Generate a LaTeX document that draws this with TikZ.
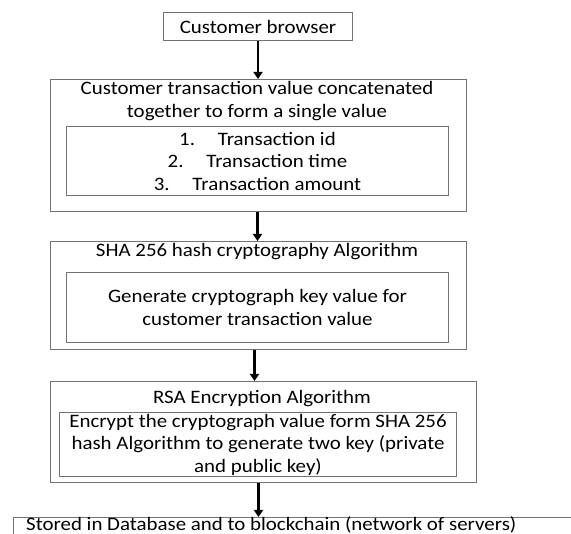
\documentclass[tikz,border=0pt]{standalone}
\usepackage{fontspec}
\setmainfont{Carlito}[FakeStretch=1.1]
\usetikzlibrary{arrows.meta}
\begin{document}
\begin{tikzpicture}[x=1pt,y=-1pt,
  frame/.style={draw=black!55,line width=1pt,inner sep=0pt,anchor=north west},
  label/.style={font=\fontsize{19}{22.5}\selectfont,align=center,inner sep=0pt},
  flow/.style={line width=2.6pt,-{Triangle[length=7pt,width=9pt]}}]
\useasboundingbox (0,0) rectangle (571,534);
\clip (0,0) rectangle (571,534);
\fill[white] (0,0) rectangle (571,534);

% stage 1: browser
\node[frame,minimum width=189pt,minimum height=28pt] (b1) at (163,12) {};
\node[label] (t1) at (b1.center) {Customer browser};

% stage 2: concatenated transaction value
\node[frame,minimum width=416pt,minimum height=132pt] (b2) at (50,79) {};
\node[label] (t2) at (257,101) {Customer transaction value concatenated\\together to form a single value};
\node[frame,minimum width=382pt,minimum height=69pt] (i2) at (66,126) {};
\node[label] (l2) at (i2.center) {1.\hspace{1.2em}Transaction id\\2.\hspace{1.2em}Transaction time\\3.\hspace{1.2em}Transaction amount};

% stage 3: SHA 256
\node[frame,minimum width=416pt,minimum height=108pt] (b3) at (50,241) {};
\node[label] (t3) at (257,252) {SHA 256 hash cryptography Algorithm};
\node[frame,minimum width=382pt,minimum height=70pt] (i3) at (66,272) {};
\node[label] (l3) at (i3.center) {Generate cryptograph key value for\\customer transaction value};

% stage 4: RSA
\node[frame,minimum width=426pt,minimum height=101pt] (b4) at (50,381) {};
\node[label] (t4) at (262,399) {RSA Encryption Algorithm};
\node[frame,minimum width=397pt,minimum height=64pt] (i4) at (59,412) {};
\node[label] (l4) at (i4.center) {Encrypt the cryptograph value form SHA 256\\hash Algorithm to generate two key (private\\and public key)};

% stage 5: storage (runs past the page edge)
\node[frame,minimum width=580pt,minimum height=40pt] (b5) at (13,517) {};
\node[label,anchor=west] (t5) at (26,525) {Stored in Database and to blockchain (network of servers)};

% connectors
\draw[flow] (b1.south) -- (b1.south |- b2.north);
\draw[flow] ([xshift=-1pt]b2.south) -- ([xshift=-1pt]b2.south |- b3.north);
\draw[flow] ([xshift=-4pt]b3.south) -- ([xshift=-4pt]b3.south |- b4.north);
\draw[flow] ([xshift=-5pt]b4.south) -- ([xshift=-5pt]b4.south |- b5.north);
\end{tikzpicture}
\end{document}
